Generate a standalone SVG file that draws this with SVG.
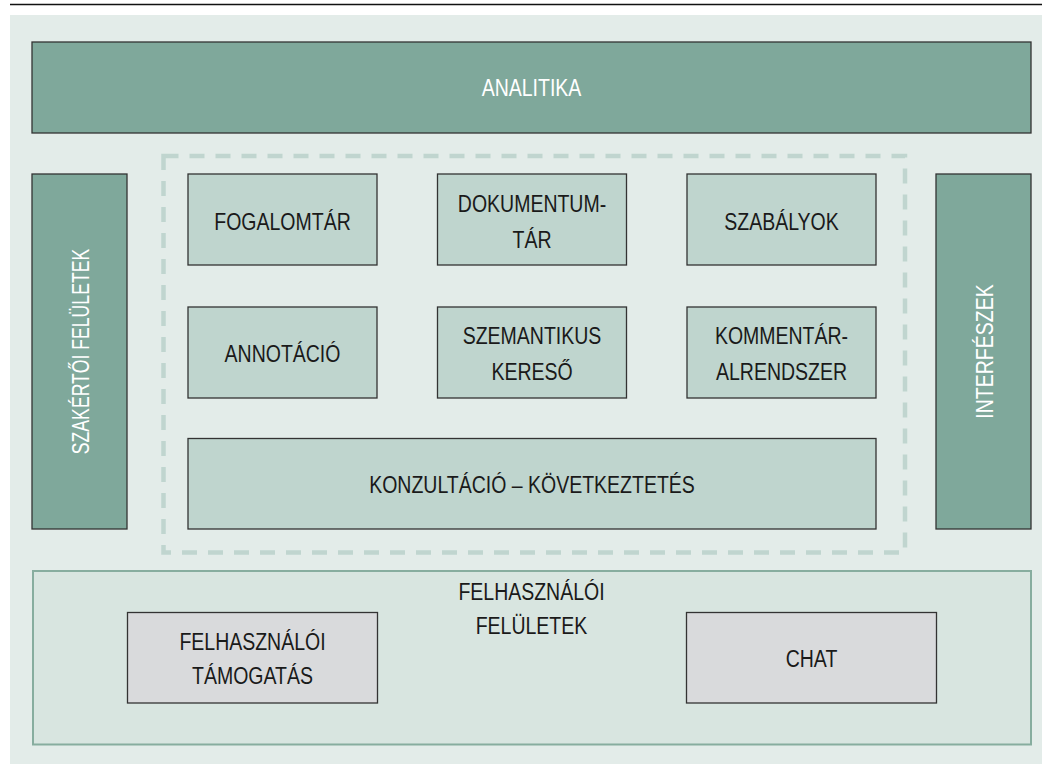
<svg xmlns="http://www.w3.org/2000/svg" width="1042" height="764" viewBox="0 0 1042 764">
  <style>
    .lbl { font-family: "Liberation Sans", Arial, sans-serif; font-size: 23.5px; text-anchor: middle; fill: #1a1a1a; }
    .lbl.inv { fill: #ffffff; }
    .dark { fill: #7fa89b; stroke: #333333; stroke-width: 1.3; }
    .mod { fill: #bfd5ce; stroke: #333333; stroke-width: 1.3; }
    .ui { fill: #d9dadc; stroke: #333333; stroke-width: 1.3; }
  </style>

  <!-- page rule and backdrop -->
  <rect x="0" y="0" width="1042" height="764" fill="#ffffff"/>
  <line x1="10" y1="4.5" x2="1042" y2="4.5" stroke="#111111" stroke-width="1.5"/>
  <rect x="10" y="15" width="1032" height="749" fill="#e3ece9"/>

  <!-- core boundary -->
  <g id="core-boundary">
    <rect x="163.5" y="156" width="741.5" height="396.5" fill="none" stroke="#c0d5cf" stroke-width="4.5" stroke-dasharray="15 11"/>
  </g>

  <!-- labels use a horizontally condensed sans: translate to centre, then scale x -->
  <g id="analitika">
    <rect class="dark" x="32" y="42" width="999" height="91"/>
    <text class="lbl inv" transform="translate(531.5 96) scale(0.83 1)">ANALITIKA</text>
  </g>

  <g id="szakertoi-feluletek">
    <rect class="dark" x="32" y="174" width="95" height="355"/>
    <text class="lbl inv" transform="translate(88.5 351.5) rotate(-90) scale(0.75 1)">SZAKÉRTŐI FELÜLETEK</text>
  </g>

  <g id="interfeszek">
    <rect class="dark" x="936" y="174" width="95" height="355"/>
    <text class="lbl inv" transform="translate(992.5 351.5) rotate(-90) scale(0.83 1)">INTERFÉSZEK</text>
  </g>

  <g id="fogalomtar">
    <rect class="mod" x="188" y="174" width="189" height="91"/>
    <text class="lbl" transform="translate(282.5 229.5) scale(0.83 1)">FOGALOMTÁR</text>
  </g>

  <g id="dokumentumtar">
    <rect class="mod" x="437.5" y="174" width="189" height="91"/>
    <text class="lbl" transform="translate(532 211.5) scale(0.83 1)">DOKUMENTUM-</text>
    <text class="lbl" transform="translate(532 247.5) scale(0.83 1)">TÁR</text>
  </g>

  <g id="szabalyok">
    <rect class="mod" x="687" y="174" width="189" height="91"/>
    <text class="lbl" transform="translate(781.5 229.5) scale(0.83 1)">SZABÁLYOK</text>
  </g>

  <g id="annotacio">
    <rect class="mod" x="188" y="307" width="189" height="91"/>
    <text class="lbl" transform="translate(282.5 362) scale(0.83 1)">ANNOTÁCIÓ</text>
  </g>

  <g id="szemantikus-kereso">
    <rect class="mod" x="437.5" y="307" width="189" height="91"/>
    <text class="lbl" transform="translate(532 344) scale(0.83 1)">SZEMANTIKUS</text>
    <text class="lbl" transform="translate(532 380) scale(0.83 1)">KERESŐ</text>
  </g>

  <g id="kommentar-alrendszer">
    <rect class="mod" x="687" y="307" width="189" height="91"/>
    <text class="lbl" transform="translate(781.5 344) scale(0.83 1)">KOMMENTÁR-</text>
    <text class="lbl" transform="translate(781.5 380) scale(0.83 1)">ALRENDSZER</text>
  </g>

  <g id="konzultacio">
    <rect class="mod" x="188" y="438.5" width="688" height="90.5"/>
    <text class="lbl" transform="translate(532 492.5) scale(0.83 1)">KONZULTÁCIÓ – KÖVETKEZTETÉS</text>
  </g>

  <g id="felhasznaloi-feluletek">
    <rect x="33" y="571" width="998" height="173.5" fill="#d8e5e0" stroke="#87ad9f" stroke-width="2"/>
    <text class="lbl" transform="translate(531.5 600) scale(0.83 1)">FELHASZNÁLÓI</text>
    <text class="lbl" transform="translate(531.5 634) scale(0.83 1)">FELÜLETEK</text>
  </g>

  <g id="felhasznaloi-tamogatas">
    <rect class="ui" x="127.5" y="612.5" width="250" height="90.5"/>
    <text class="lbl" transform="translate(252.5 650) scale(0.83 1)">FELHASZNÁLÓI</text>
    <text class="lbl" transform="translate(252.5 684) scale(0.83 1)">TÁMOGATÁS</text>
  </g>

  <g id="chat">
    <rect class="ui" x="686.5" y="612.5" width="250" height="90.5"/>
    <text class="lbl" transform="translate(811.5 666.5) scale(0.83 1)">CHAT</text>
  </g>

  <g id="connectors"/>
</svg>
